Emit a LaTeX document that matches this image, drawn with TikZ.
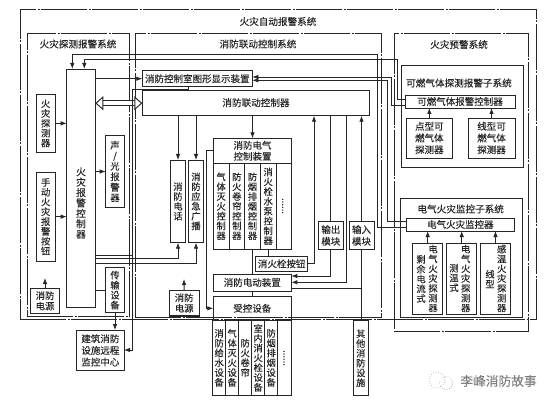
\documentclass[tikz,border=0pt]{standalone}
\usepackage{fontspec}
\setmainfont{Noto Sans CJK SC}[FakeBold=0.12]
\usepackage{xcolor}
\usetikzlibrary{arrows.meta,positioning}
\definecolor{inkc}{gray}{0.15}

\begin{document}
\begin{tikzpicture}[
  x=1pt, y=-1pt,
  every node/.style={text=inkc},
  boxsize/.style 2 args={minimum width=#1pt, minimum height=#2pt},
  frame/.style={draw=inkc, line width=0.9pt, inner sep=0pt, outer sep=0pt, anchor=north west,
    dash pattern=on 46pt off 1.5pt on 2pt off 1.5pt},
  box/.style={draw=inkc, line width=0.95pt, inner sep=0pt, outer sep=0pt, anchor=north west,
    align=center, font=\fontsize{9.5}{11.7}\selectfont},
  cell/.style={box, font=\fontsize{9.3}{9.8}\selectfont},
  lbl/.style={inner sep=0pt, align=center, font=\fontsize{9.6}{11.5}\selectfont},
  vlbl/.style={inner sep=0pt, align=center, font=\fontsize{9.3}{9.8}\selectfont},
  dots/.style={inner sep=0pt, rotate=90, font=\fontsize{9.5}{10}\selectfont},
  wire/.style={draw=inkc, line width=0.85pt},
  arr/.style={wire, -{Latex[length=6pt,width=4.5pt]}},
  dblarr/.style={draw=inkc, line width=0.95pt, double=white, double distance=3.6pt,
    {Triangle[open,length=8pt,width=14pt,line width=0.95pt,fill=white]}-{Triangle[open,length=8pt,width=14pt,line width=0.95pt,fill=white]}},
  wmark/.style={draw=black!45, line width=0.6pt, dotted, circle, inner sep=0pt},
]
\useasboundingbox (0,0) rectangle (554,406);

% --- Frames ---
\node[frame, boxsize={516}{310}] (firesys) at (20,9) {};
\node[frame, boxsize={102.5}{283}] (detsys) at (27,33) {};
\node[frame, boxsize={246}{284}] (linksys) at (135,33) {};
\node[frame, boxsize={134}{298}] (warnsys) at (394,33) {};
\node[lbl] (firetitle) at (278,21.5) {火灾自动报警系统};
\node[lbl] (dettitle) at (78,44) {火灾探测报警系统};
\node[lbl] (linktitle) at (258,44) {消防联动控制系统};
\node[lbl] (warntitle) at (459,44.5) {火灾预警系统};

% --- Detection ---
\node[box, boxsize={28.6}{238}] (panel) at (66.7,69) {};
\node[vlbl, font=\fontsize{9.8}{10.4}\selectfont] (paneltxt) at (81,203) {火\\灾\\报\\警\\控\\制\\器};
\node[box, boxsize={19.3}{58.7}, font=\fontsize{9.3}{9.8}\selectfont] (det) at (36,94) {火\\灾\\探\\测\\器};
\node[box, boxsize={19.3}{88.7}, font=\fontsize{9.3}{9.8}\selectfont] (manual) at (36,172.3) {手\\动\\火\\灾\\报\\警\\按\\钮};
\node[box, boxsize={18.6}{71.6}, font=\fontsize{9.3}{10.5}\selectfont] (alarm) at (105.7,135.7) {声\\/\\光\\报\\警\\器};
\node[box, boxsize={18.6}{45}, font=\fontsize{9.3}{10}\selectfont] (relay) at (105.7,267.7) {传\\输\\设\\备};
\node[box, boxsize={28.6}{25}, font=\fontsize{9.3}{10.5}\selectfont] (powera) at (30.7,288.3) {消防\\电源};
\node[box, boxsize={47.3}{40.7}] (remote) at (76.7,330) {建筑消防\\设施远程\\监控中心};
\coordinate (powerupa) at (45,278);

% --- Linkage ---
\node[box, boxsize={110}{16}, font=\fontsize{9.5}{11}\selectfont] (graph) at (142.3,70.7) {消防控制室图形显示装置};
\node[box, boxsize={226.7}{25}] (linkctl) at (142.3,90.7) {};
\node[lbl] (linktxt) at (256,102.7) {消防联动控制器};
\node[cell, boxsize={14.6}{82.7}] (phone) at (170.7,160) {消\\防\\电\\话};
\node[cell, boxsize={14.6}{82.7}] (broadcast) at (188.7,160) {消\\防\\应\\急\\广\\播};
\node[box, boxsize={78.4}{25}, font=\fontsize{9.5}{11}\selectfont] (elecdev) at (213.3,138.3) {消防电气\\控制装置};
\node[cell, boxsize={15.68}{86}] (cellgas) at (213.3,163.3) {气\\体\\灭\\火\\控\\制\\器};
\node[cell, boxsize={15.68}{86}, right=0pt of cellgas] (cellroll) {防\\火\\卷\\帘\\控\\制\\器};
\node[cell, boxsize={15.68}{86}, right=0pt of cellroll] (cellsmoke) {防\\烟\\排\\烟\\控\\制\\器};
\node[cell, boxsize={15.68}{86}, right=0pt of cellsmoke] (cellpump) {消\\火\\栓\\水\\泵\\控\\制\\器};
\node[cell, boxsize={15.68}{86}, right=0pt of cellpump] (cellmore) {};
\node[dots] (moredots) at (282.7,206) {......};
\node[box, boxsize={52}{14.3}] (hydrant) at (255.7,256.7) {消火栓按钮};
\node[box, boxsize={78}{17}] (drive) at (213.3,274) {消防电动装置};
\node[box, boxsize={78}{23.3}] (controlled) at (213.3,296.7) {受控设备};
\node[box, boxsize={25}{27.6}] (outmod) at (318.3,221.7) {输出\\模块};
\node[box, boxsize={25}{27.6}] (inmod) at (349,221.7) {输入\\模块};
\node[box, boxsize={29.7}{26}, font=\fontsize{9.3}{10.5}\selectfont] (powerb) at (169.3,290) {消防\\电源};
\coordinate (powerupb) at (184,279);

% --- Equipment ---
\node[cell, boxsize={13}{75.7}] (eqwater) at (212.7,320) {消\\防\\给\\水\\设\\备};
\node[cell, boxsize={13}{75.7}, right=0pt of eqwater] (eqgas) {气\\体\\灭\\火\\设\\备};
\node[cell, boxsize={13}{75.7}, right=0pt of eqgas] (eqroll) {防\\火\\卷\\帘};
\node[cell, boxsize={13}{75.7}, right=0pt of eqroll] (eqhyd) {室\\内\\消\\火\\栓\\设\\备};
\node[cell, boxsize={13}{75.7}, right=0pt of eqhyd] (eqsmoke) {防\\烟\\排\\烟\\设\\备};
\node[cell, boxsize={14}{75.7}, right=0pt of eqsmoke] (eqmore) {};
\node[dots] (eqdots) at (284,358) {......};
\node[cell, boxsize={15}{75}] (other) at (353.3,320.7) {其\\他\\消\\防\\设\\施};

% --- Gas subsystem ---
\node[box, boxsize={122}{102}] (gassub) at (401,65) {};
\node[lbl] (gastitle) at (459,83) {可燃气体探测报警子系统};
\node[box, boxsize={110}{13}] (gasctl) at (405,95) {可燃气体报警控制器};
\node[box, boxsize={46.7}{40}] (gaspoint) at (406,118) {点型可\\燃气体\\探测器};
\node[box, boxsize={47}{40}] (gasline) at (468,118) {线型可\\燃气体\\探测器};

% --- Electrical subsystem ---
\node[box, boxsize={122}{119}] (elecsub) at (400,198) {};
\node[lbl] (electitle) at (460.7,209) {电气火灾监控子系统};
\node[box, boxsize={107.3}{13}] (elecctl) at (406.7,218) {电气火灾监控器};
\node[box, boxsize={30}{71}] (eleca) at (412.7,243) {};
\node[box, boxsize={30}{71}] (elecb) at (446.7,243) {};
\node[box, boxsize={30.4}{71}] (elecc) at (480.3,243) {};
\node[vlbl] (elecatxt) at (433,278.5) {电\\气\\火\\灾\\探\\测\\器};
\node[vlbl] (elecakind) at (421,279) {剩\\余\\电\\流\\式};
\node[vlbl] (elecbtxt) at (465.7,278.5) {电\\气\\火\\灾\\探\\测\\器};
\node[vlbl] (elecbkind) at (454,278) {测\\温\\式};
\node[vlbl] (elecctxt) at (501.7,278.5) {感\\温\\火\\灾\\探\\测\\器};
\node[vlbl] (eleckind) at (490,279) {线\\型};

% --- Connectors ---
\draw[arr] (det) -- (det -| panel.west);
\draw[arr] (manual) -- (manual -| panel.west);
\draw[arr] (panel.east |- alarm) -- (alarm.west);
\draw[wire] (panel.east |- relay) -- (relay.west);
\draw[arr] (powera.north) -- (powerupa);
\draw[arr] (relay.south) -- (relay.south |- remote.north);
\draw[arr] (panel.east |- graph) -- (graph.west);
\draw[dblarr] (panel.east |- linkctl) -- (linkctl.west);
\draw[arr] (elecctl.west |- 0,227.5) -- (377,227.5) -- (377,54) -- (72.3,54) -- (panel.north -| 72.3,0);
\draw[arr] (gasctl.west |- 0,99.3) -- (397.7,99.3) -- (397.7,59) -- (84.3,59) -- (panel.north -| 84.3,0);
\draw[arr] (gasctl.west |- 0,105.7) -- (391,105.7) -- (391,77) -- (graph.east |- 0,77);
\draw[arr] (elecctl.west |- 0,221.7) -- (387,221.7) -- (387,80.3) -- (graph.east |- 0,80.3);
\draw[arr] (graph.south -| 188.3,0) -- (188.3,89) -- (132.7,89) -- (132.7,350) -- (remote.east |- 0,350);
\draw[wire] (panel.east |- 0,255) -- (132.7,255);
\draw[arr] (panel.east |- 0,258.5) -| (phone.south);
\draw[arr] (panel.east |- 0,263) -| (broadcast.south);
\draw[arr] (linkctl.south -| phone) -- (phone.north);
\draw[arr] (linkctl.south -| broadcast) -- (broadcast.north);
\draw[arr] (linkctl.south -| elecdev) -- (elecdev.north);
\draw[arr] (elecdev.west) -- ++(-7,0) |- (controlled.west);
\draw[wire] (cellpump.south) -- (cellpump.south |- hydrant.north);
\draw[wire] (cellsmoke.south) -- (cellsmoke.south |- drive.north);
\draw[wire] (drive.south) -- (controlled.north);
\draw[arr] (hydrant.east) -| (linkctl.south -| 314,0);
\draw[wire] (linkctl.south -| outmod) -- (outmod.north);
\draw[arr] (outmod.south) |- (drive.east |- 0,276);
\draw[arr] (linkctl.south -| 346,0) -- (346,282.3) -- (drive.east |- 0,282.3);
\draw[arr] (inmod.north) -- (linkctl.south -| inmod);
\draw[wire] (inmod.south) -- (inmod.south |- other.north);
\draw[wire] (drive.east |- 0,288.8) -- (inmod.south |- 0,288.8);
\draw[arr] (powerb.north) -- (powerupb);
\draw[line width=1.8pt, draw=inkc] (powerb.south west) -- (powerb.south east);
\draw[arr] (gaspoint.north) -- (gaspoint.north |- gasctl.south);
\draw[arr] (gasline.north) -- (gasline.north |- gasctl.south);
\draw[arr] (eleca.north) -- (eleca.north |- elecctl.south);
\draw[arr] (elecb.north) -- (elecb.north |- elecctl.south);
\draw[arr] (elecc.north) -- (elecc.north |- elecctl.south);

% --- Watermark ---
\node[wmark, minimum size=16pt] (wechata) at (437,380) {};
\node[wmark, minimum size=13pt] (wechatb) at (446,383) {};
\node[inner sep=0pt, text=black!50, font=\fontsize{12.7}{14}\selectfont] (marktxt) at (498.5,381) {李峰消防故事};

\end{tikzpicture}
\end{document}
